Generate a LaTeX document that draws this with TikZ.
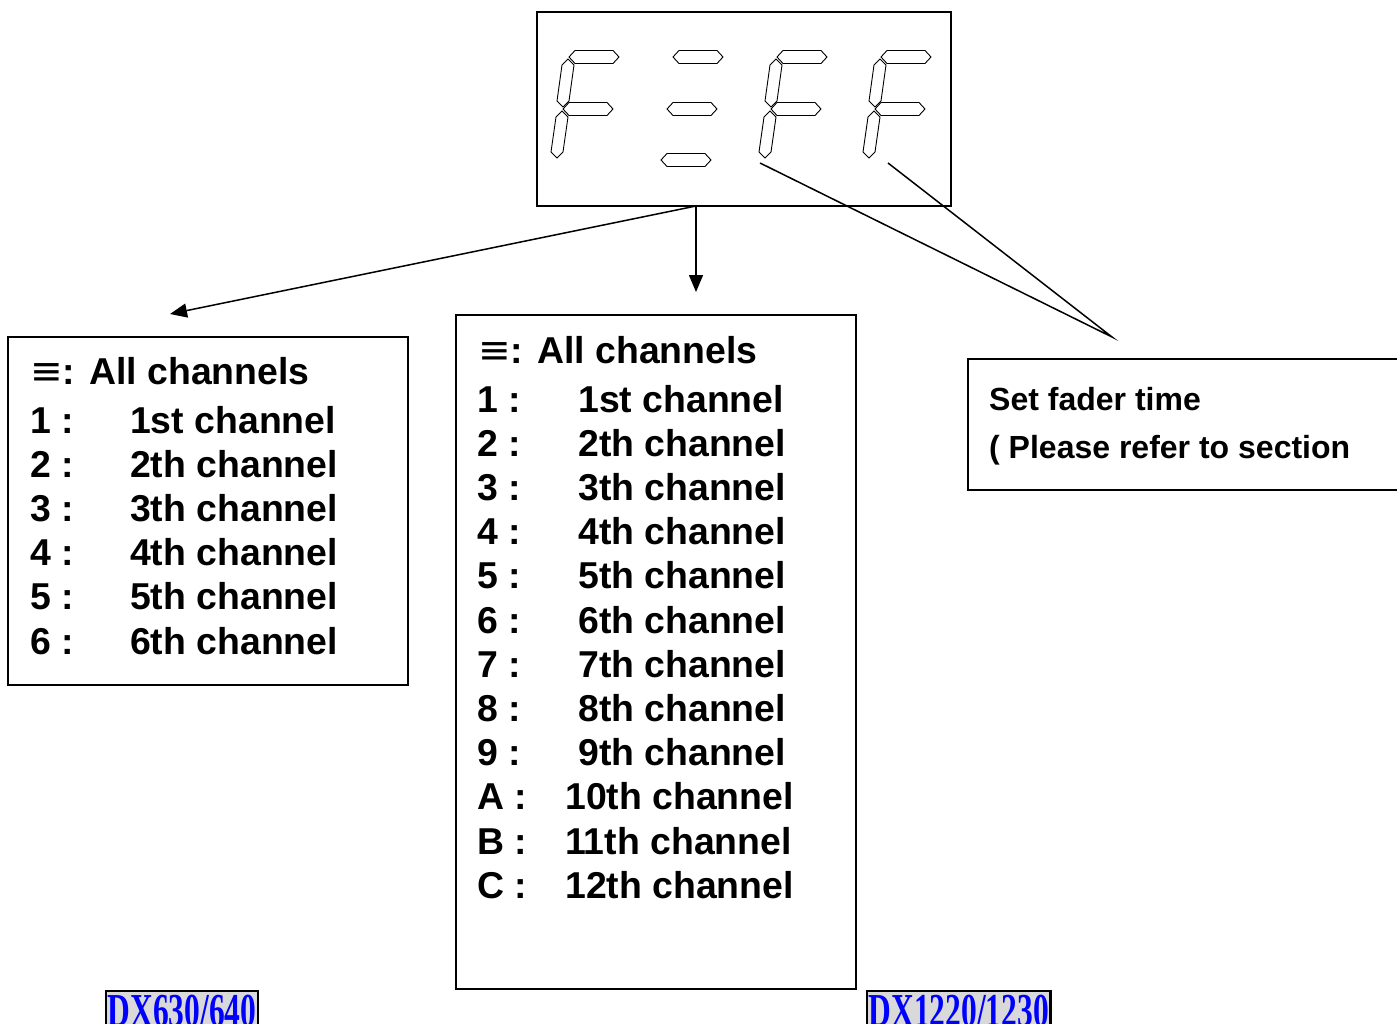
\documentclass[tikz,border=0pt]{standalone}
\usepackage{fontspec}
\setmainfont{Liberation Sans}
\newfontfamily\symfont{DejaVu Sans}
\newfontfamily\tagfont{Liberation Serif}
\usetikzlibrary{arrows.meta}
\def\hseg(#1,#2){\draw[seg] ({#1-25},{#2}) -- ({#1-19},{#2-6.5}) -- ({#1+19},{#2-6.5}) -- ({#1+25},{#2}) -- ({#1+19},{#2+6.5}) -- ({#1-19},{#2+6.5}) -- cycle;}
\def\vseg(#1,#2)(#3,#4){\draw[seg] ({#1},{#2}) -- ({#1+6},{#2+6}) -- ({#3+6},{#4-6}) -- ({#3},{#4}) -- ({#3-6},{#4-6}) -- ({#1-6},{#2+6}) -- cycle;}
\def\segF#1{\hseg(#1,57)\hseg(#1-6,109)\vseg(#1-26,59)(#1-31,107)\vseg(#1-32,111)(#1-37,158)}
\def\segE#1{\hseg(#1,57)\hseg(#1-6,109)\hseg(#1-12,160)}

\begin{document}
\begin{tikzpicture}[x=1pt,y=-1pt,
  seg/.style={line width=0.9pt,line join=miter},
  frame/.style={draw,line width=1.6pt,inner sep=0pt},
  row/.style={anchor=base west,inner sep=0pt,font=\fontsize{37.4}{44}\selectfont\bfseries},
  note/.style={anchor=base west,inner sep=0pt,font=\fontsize{32}{40}\selectfont\bfseries},
  tag/.style={draw,line width=2.4pt,fill=gray!30,text=blue,anchor=north west,inner xsep=1.5pt,inner ysep=4pt,font=\tagfont\fontsize{31.5}{32}\selectfont\bfseries},
  link/.style={line width=1.5pt},
  arr/.style={link,-{Triangle[length=17pt,width=14pt]}}]
			%%%%% START %%%%%
			\useasboundingbox (0,0) rectangle (1397,1023);
			\clip (0,0) rectangle (1397,1023);
			
			% display
			\node[frame,line width=1.2pt,minimum width=414pt,minimum height=194pt] (disp) at (744,109) {};
			\segF{594}\segE{698}\segF{802}\segF{906}
			
			% boxes
			\node[frame,minimum width=400pt,minimum height=348pt] (lbox) at (208,511) {};
			\node[frame,minimum width=400pt,minimum height=674pt] (mbox) at (656,652) {};
			\node[frame,minimum width=450pt,minimum height=131pt] (fbox) at (1193,424.5) {};
			
			% DX630/640
			\node[row] (ltitle) at (30,384) {{\symfont\mdseries\fontsize{39}{40}\selectfont ≡}: All channels};
			\foreach \ch [count=\i from 0] in {1st,2th,3th,4th,5th,6th}{
				\pgfmathtruncatemacro\n{\i+1}
				\node[row] (lnum\n) at (30,{433+44.2*\i}) {\n\ :};
				\node[row] (lch\n) at (130,{433+44.2*\i}) {\ch\ channel};
			}
			
			% DX1220/1230
			\node[row] (mtitle) at (478,363) {{\symfont\mdseries\fontsize{39}{40}\selectfont ≡}: All channels};
			\foreach \lab/\ch [count=\i from 0] in {1/1st,2/2th,3/3th,4/4th,5/5th,6/6th,7/7th,8/8th,9/9th,A/10th,B/11th,C/12th}{
				\ifnum\i<9 \def\chx{578}\else\def\chx{565}\fi
				\node[row] (mnum\i) at (477,{412+44.2*\i}) {\lab\ :};
				\node[row] (mch\i) at (\chx,{412+44.2*\i}) {\ch\ channel};
			}
			
			% fader time
			\node[note] (fline1) at (989,410) {Set fader time};
			\node[note] (fline2) at (989,458) {( Please refer to section};
			
			\node[tag] (tag630) at (105,990) {\scalebox{1}[1.5]{DX630/640}};
			\node[tag] (tag1220) at (866,990) {\scalebox{1}[1.5]{DX1220/1230}};
			
			% connectors
			\coordinate (split) at (696,206);
			\coordinate (ltip) at (170,314);
			\coordinate (mtip) at (696,292);
			\draw[arr] (split) -- (ltip);
			\draw[arr] (split) -- (mtip);
			\coordinate (pin3) at (760,163);
			\coordinate (pin4) at (888,163);
			\coordinate (fjoin) at (1112,337);
			\draw[link] (pin3) -- (fjoin) -- (pin4);
			%%%%% END %%%%%
		\end{tikzpicture}
\end{document}
